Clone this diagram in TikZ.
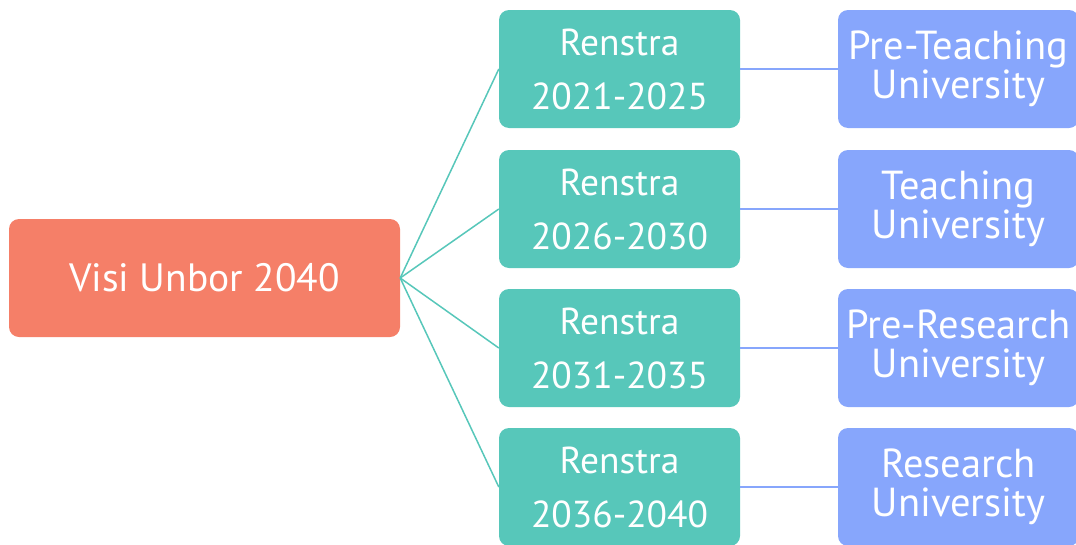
\documentclass[tikz,border=0pt]{standalone}
\usepackage{fontspec}
\setmainfont{PT Sans}
\definecolor{salmon}{HTML}{F57F68}
\definecolor{tealc}{HTML}{57C7BA}
\definecolor{bluec}{HTML}{87A6FC}
\begin{document}
\begin{tikzpicture}[x=1pt,y=-1pt,
  rootbox/.style={fill=salmon,rounded corners=10pt,minimum width=391pt,minimum height=118pt,inner sep=0pt,text=white,font=\fontsize{39.5}{46}\selectfont,align=center},
  planbox/.style={fill=tealc,rounded corners=10pt,minimum width=241pt,minimum height=118pt,inner sep=0pt,text=white,font=\fontsize{37.5}{54}\selectfont,align=center},
  goalbox/.style={fill=bluec,rounded corners=10pt,minimum width=241pt,minimum height=118pt,inner sep=0pt,text=white,font=\fontsize{40.5}{39}\selectfont,align=center},
  tline/.style={draw=tealc,line width=1.5pt},
  bline/.style={draw=bluec,line width=1.5pt}]
\clip (0,0) rectangle (1076,544);
\node[rootbox] (root) at (204.5,278) {Visi Unbor 2040};
\node[planbox] (r1) at (619.5,69) {Renstra\\2021-2025};
\node[planbox] (r2) at (619.5,209) {Renstra\\2026-2030};
\node[planbox] (r3) at (619.5,348) {Renstra\\2031-2035};
\node[planbox] (r4) at (619.5,487) {Renstra\\2036-2040};
\node[goalbox] (g1) at (958.5,69) {Pre-Teaching\\University};
\node[goalbox] (g2) at (958.5,209) {Teaching\\University};
\node[goalbox] (g3) at (958.5,348) {Pre-Research\\University};
\node[goalbox] (g4) at (958.5,487) {Research\\University};
\foreach \i in {1,2,3,4}{
  \draw[tline] (root.east) -- (r\i.west);
  \draw[bline] (r\i.east) -- (g\i.west);
}
\end{tikzpicture}
\end{document}
